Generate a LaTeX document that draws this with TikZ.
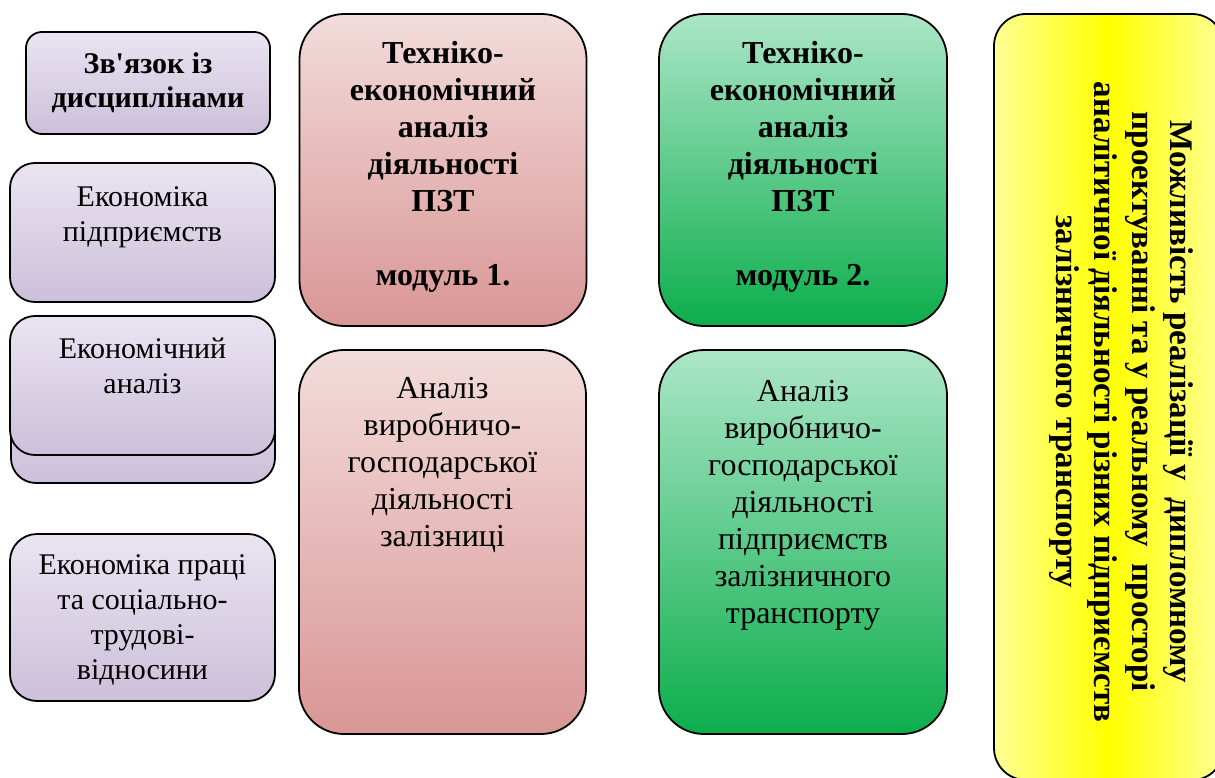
\documentclass[tikz,border=0pt]{standalone}
\usepackage{fontspec}
\setmainfont{Liberation Serif}
\definecolor{lavT}{RGB}{234,228,241}
\definecolor{lavB}{RGB}{204,192,218}
\definecolor{redT}{RGB}{242,220,219}
\definecolor{redB}{RGB}{217,150,148}
\definecolor{grnT}{RGB}{172,230,200}
\definecolor{grnB}{RGB}{12,174,76}
\definecolor{yelE}{RGB}{255,255,150}
\definecolor{yelM}{RGB}{255,255,0}
\tikzset{
  frame/.style={draw=black, line width=1.8pt, inner sep=0pt},
  lbox/.style={frame, top color=lavT, bottom color=lavB, rounded corners=25pt,
    minimum width=265pt, minimum height=139pt},
  rbox/.style={frame, top color=redT, bottom color=redB, rounded corners=45pt,
    minimum width=287pt},
  gbox/.style={frame, top color=grnT, bottom color=grnB, rounded corners=45pt,
    minimum width=288pt},
  ybox/.style={frame, left color=yelE, right color=yelE, middle color=yelM,
    rounded corners=32pt, minimum width=230pt, minimum height=766pt},
  ltxt/.style={align=center, inner sep=0pt, font=\fontsize{30}{35}\selectfont},
  ltxtb/.style={align=center, inner sep=0pt, font=\fontsize{30}{34}\selectfont\bfseries},
  mtxt/.style={align=center, inner sep=0pt, font=\fontsize{32}{37}\selectfont},
  mtxtb/.style={align=center, inner sep=0pt, font=\fontsize{32}{37}\selectfont\bfseries},
  ytxt/.style={align=center, inner sep=0pt, rotate=-90,
    font=\fontsize{33}{38}\selectfont\bfseries},
}
\begin{document}
\begin{tikzpicture}[x=1pt,y=-1pt]
\useasboundingbox (0,0) rectangle (1215,778);
\clip (0,0) rectangle (1215,778);
% left column
\node[lbox, rounded corners=16pt, minimum width=244pt, minimum height=102pt, ltxtb] (b1) at (148,83) {Зв\textquotesingle язок із\\дисциплінами};
\node[lbox] (b2) at (142.5,232.5) {};
\node[ltxt] (t2) at (142.5,217) {Економіка\\підприємств};
\node[lbox, minimum width=264pt, minimum height=140pt] (b3b) at (143,413) {};
\node[lbox] (b3) at (142.5,385.5) {};
\node[ltxt] (t3) at (142.5,365.5) {Економічний\\аналіз};
\node[lbox, rounded corners=27pt, minimum height=167pt] (b4) at (142.5,617.5) {};
\node[ltxt] (t4) at (142.5,620) {Економіка праці\\та соціально-\\трудові-\\відносини};
% middle columns
\node[rbox, minimum height=312pt] (r1) at (443,170) {};
\node[mtxtb] (tr1) at (443,167) {Техніко-\\економічний\\аналіз\\діяльності\\ПЗТ\\[37pt]модуль 1.};
\node[rbox, minimum height=384pt] (r2) at (442.5,542) {};
\node[mtxt] (tr2) at (442.5,464.5) {Аналіз\\виробничо-\\господарської\\діяльності\\залізниці};
\node[gbox, minimum height=312pt] (g1) at (803,170) {};
\node[mtxtb] (tg1) at (803,167) {Техніко-\\економічний\\аналіз\\діяльності\\ПЗТ\\[37pt]модуль 2.};
\node[gbox, minimum height=384pt] (g2) at (803,542) {};
\node[mtxt] (tg2) at (803,505) {Аналіз\\виробничо-\\господарської\\діяльності\\підприємств\\залізничного\\транспорту};
% yellow
\node[ybox] (yb) at (1109,397) {};
\node[ytxt] (ty) at (1121,402) {Можливість реалізації у~~дипломному\\проектуванні та у реальному~~просторі\\аналітичної діяльності різних підприємств\\залізничного транспорту};
\end{tikzpicture}
\end{document}
